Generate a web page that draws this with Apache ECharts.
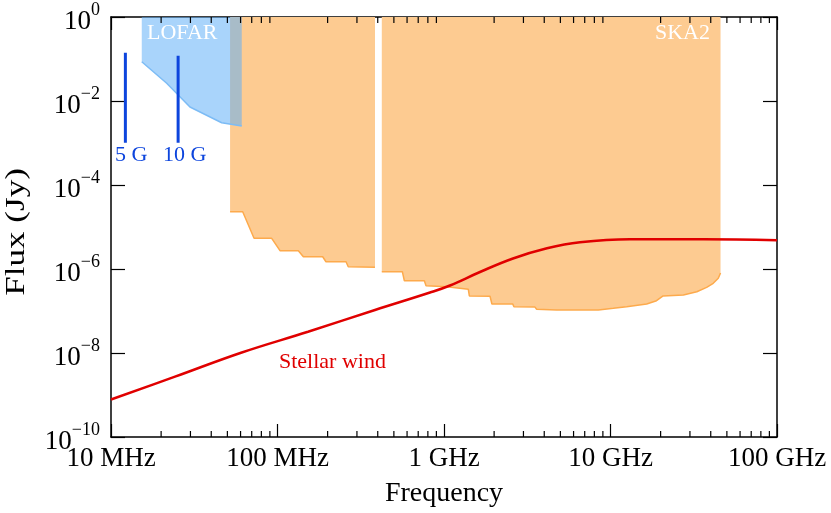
<html>
<head>
<meta charset="utf-8">
<title>Flux vs frequency</title>
<script src="https://cdn.jsdelivr.net/npm/echarts@6/dist/echarts.min.js"></script>
<style>
  html, body { margin: 0; padding: 0; background: #fff; }
  #chart { width: 831px; height: 513px; }
</style>
</head>
<body>
<div id="chart"></div>
<script>
// frequency tick labels (10^7 .. 10^11 Hz)
var xTickLabels = ['10 MHz', '100 MHz', '1 GHz', '10 GHz', '100 GHz'];

// LOFAR sensitivity limit [Hz, Jy]
var lofarFreq = [1.53e7, 2.16e7, 2.98e7, 4.62e7, 6.1e7];
var lofarFlux = [0.086, 0.0264, 0.0072, 0.00304, 0.00254];

// SKA2 sensitivity limit, low band [Hz, Jy]
var skaLowFreq = [5.19e7, 6.18e7, 7.23e7, 9.23e7, 1.035e8, 1.334e8, 1.43e8, 1.868e8, 1.955e8, 2.58e8, 2.66e8, 3.85e8];
var skaLowFlux = [2.31e-5, 2.31e-5, 5.38e-6, 5.38e-6, 2.73e-6, 2.73e-6, 1.96e-6, 1.96e-6, 1.49e-6, 1.49e-6, 1.13e-6, 1.10e-6];

// SKA2 sensitivity limit, mid/high band [Hz, Jy]
var skaHighFreq = [4.23e8, 5.62e8, 5.78e8, 7.62e8, 7.8e8, 1.038e9, 1.40e9, 1.42e9, 1.89e9, 1.94e9, 2.59e9, 2.63e9,
                   3.52e9, 3.60e9, 4.75e9, 4.86e9, 8.46e9, 1.04e10, 1.25e10, 1.65e10, 1.89e10, 2.07e10, 2.74e10,
                   3.30e10, 3.78e10, 4.14e10, 4.44e10, 4.58e10];
var skaHighFlux = [8.63e-7, 8.63e-7, 5.26e-7, 5.26e-7, 4.0e-7, 3.79e-7, 3.29e-7, 2.28e-7, 2.25e-7, 1.47e-7, 1.46e-7, 1.26e-7,
                   1.24e-7, 1.10e-7, 1.06e-7, 1.04e-7, 1.06e-7, 1.16e-7, 1.26e-7, 1.47e-7, 1.76e-7, 2.28e-7, 2.40e-7,
                   2.88e-7, 3.66e-7, 4.57e-7, 6.0e-7, 8.0e-7];

// stellar wind emission [Hz, Jy]
var windFreq = [1e7, 2.424e7, 6.04e7, 1.525e8, 3.85e8, 8.24e8, 1.086e9, 1.645e9, 2.597e9, 4.155e9, 6.56e9, 1.309e10, 3.594e10, 1e11];
var windFlux = [7.82e-10, 2.73e-9, 1.016e-8, 3.21e-8, 1.056e-7, 2.75e-7, 4.05e-7, 8.49e-7, 1.78e-6, 3.11e-6, 4.32e-6, 5.09e-6, 5.09e-6, 4.82e-6];

// cyclotron cut-off markers: frequency, top and bottom flux
var cutNames = ['5 G', '10 G'];
var cutFreq = [1.22e7, 2.53e7];
var cutTop = [0.141, 0.12];
var cutBottom = [1.02e-3, 1.02e-3];

// minor ticks on the frequency axis
var minorTicks = [];
for (var d = 7; d < 11; d++) {
    for (var m = 2; m <= 9; m++) minorTicks.push(m * Math.pow(10, d));
}

function pairs(xs, ys) {
    var out = [];
    for (var i = 0; i < xs.length; i++) out.push([xs[i], ys[i]]);
    return out;
}

var FONT = "'Liberation Serif', 'DejaVu Serif', serif";
var chart = echarts.init(document.getElementById('chart'));

var option = {
    animation: false,
    backgroundColor: '#fff',
    grid: { left: 111, right: 54, top: 17, bottom: 76 },
    xAxis: [{
        type: 'log', min: 1e7, max: 1e11, position: 'bottom',
        name: 'Frequency', nameLocation: 'middle', nameGap: 43,
        nameTextStyle: { fontFamily: FONT, fontSize: 28, color: '#000' },
        axisLine: { lineStyle: { color: '#000', width: 1.5 } },
        axisTick: { inside: true, length: 13, lineStyle: { color: '#000', width: 1.2 } },
        axisLabel: {
            fontFamily: FONT, fontSize: 27, color: '#000', margin: 8,
            showMinLabel: true, showMaxLabel: true, hideOverlap: false,
            formatter: function (v) { return xTickLabels[Math.round(Math.log10(v)) - 7]; }
        },
        splitLine: { show: false }
    }, {
        type: 'log', min: 1e7, max: 1e11, position: 'top',
        axisLine: { lineStyle: { color: '#000', width: 1.5 } },
        axisTick: { inside: true, length: 13, lineStyle: { color: '#000', width: 1.2 } },
        axisLabel: { show: false },
        splitLine: { show: false }
    }],
    yAxis: [{
        type: 'log', logBase: 100, min: 1e-10, max: 1, position: 'left',
        axisLine: { lineStyle: { color: '#000', width: 1.5 } },
        axisTick: { inside: true, length: 14, lineStyle: { color: '#000', width: 1.2 } },
        axisLabel: {
            margin: 11, showMinLabel: true, showMaxLabel: true, hideOverlap: false,
            formatter: function (v) {
                var e = Math.round(Math.log10(v));
                return '{b|10}{s|' + (e < 0 ? '\u2212' : '') + Math.abs(e) + '}';
            },
            rich: {
                b: { fontFamily: FONT, fontSize: 27, color: '#000', padding: [10, 0, 0, 0] },
                s: { fontFamily: FONT, fontSize: 18, color: '#000', padding: [0, 0, 14, 0] }
            }
        },
        splitLine: { show: false }
    }, {
        type: 'log', logBase: 100, min: 1e-10, max: 1, position: 'right',
        axisLine: { lineStyle: { color: '#000', width: 1.5 } },
        axisTick: { inside: true, length: 14, lineStyle: { color: '#000', width: 1.2 } },
        axisLabel: { show: false },
        splitLine: { show: false }
    }],
    series: [{
        name: 'SKA2 low', type: 'line', symbol: 'none', z: 1,
        data: pairs(skaLowFreq, skaLowFlux),
        lineStyle: { color: '#fdaa4c', width: 1.5 },
        areaStyle: { color: 'rgb(253,203,145)', opacity: 1, origin: 'end' }
    }, {
        name: 'SKA2 high', type: 'line', symbol: 'none', z: 1,
        data: pairs(skaHighFreq, skaHighFlux),
        lineStyle: { color: '#fdaa4c', width: 1.5 },
        areaStyle: { color: 'rgb(253,203,145)', opacity: 1, origin: 'end' }
    }, {
        name: 'LOFAR', type: 'line', symbol: 'none', z: 2,
        data: pairs(lofarFreq, lofarFlux),
        lineStyle: { color: '#7dbcf5', width: 1.5 },
        areaStyle: { color: 'rgba(96,175,248,0.54)', opacity: 1, origin: 'end' }
    }, {
        name: 'Stellar wind', type: 'line', symbol: 'none', smooth: 0.4, z: 3,
        data: pairs(windFreq, windFlux),
        lineStyle: { color: '#e00000', width: 2.5 }
    }, {
        name: cutNames[0], type: 'line', symbol: 'none', z: 3,
        data: [[cutFreq[0], cutTop[0]], [cutFreq[0], cutBottom[0]]],
        lineStyle: { color: '#0d45dd', width: 3 }
    }, {
        name: cutNames[1], type: 'line', symbol: 'none', z: 3,
        data: [[cutFreq[1], cutTop[1]], [cutFreq[1], cutBottom[1]]],
        lineStyle: { color: '#0d45dd', width: 3 }
    }, {
        name: 'minor ticks', type: 'custom', z: 5, silent: true, clip: false,
        data: minorTicks.map(function (v) { return [v]; }),
        renderItem: function (params, api) {
            var b = api.coord([api.value(0), 1e-10]);
            var t = api.coord([api.value(0), 1]);
            var st = { stroke: '#000', lineWidth: 1.2 };
            return { type: 'group', children: [
                { type: 'line', shape: { x1: b[0], y1: b[1], x2: b[0], y2: b[1] - 6 }, style: st },
                { type: 'line', shape: { x1: t[0], y1: t[1], x2: t[0], y2: t[1] + 6 }, style: st }
            ] };
        }
    }],
    graphic: [
        // y axis title, stretched along its length like the original figure
        { type: 'text', x: 17, y: 232, rotation: Math.PI / 2, scaleX: 1.3, z: 10,
          style: { text: 'Flux (Jy)', fontFamily: FONT, fontSize: 27, fill: '#000', align: 'center', verticalAlign: 'middle' } },
        { type: 'text', left: 147, top: 22, z: 10, style: { text: 'LOFAR', fontFamily: FONT, fontSize: 22, fill: '#fff' } },
        { type: 'text', left: 655, top: 22, z: 10, style: { text: 'SKA2', fontFamily: FONT, fontSize: 22, fill: '#fff' } },
        { type: 'text', left: 279, top: 351, z: 10, style: { text: 'Stellar wind', fontFamily: FONT, fontSize: 22, fill: '#e00000' } },
        { type: 'text', left: 115, top: 144, z: 10, style: { text: cutNames[0], fontFamily: FONT, fontSize: 22, fill: '#0d45dd' } },
        { type: 'text', left: 163, top: 144, z: 10, style: { text: cutNames[1], fontFamily: FONT, fontSize: 22, fill: '#0d45dd' } }
    ]
};

chart.setOption(option);
window.onresize = function () { chart.resize(); };
</script>
</body>
</html>
